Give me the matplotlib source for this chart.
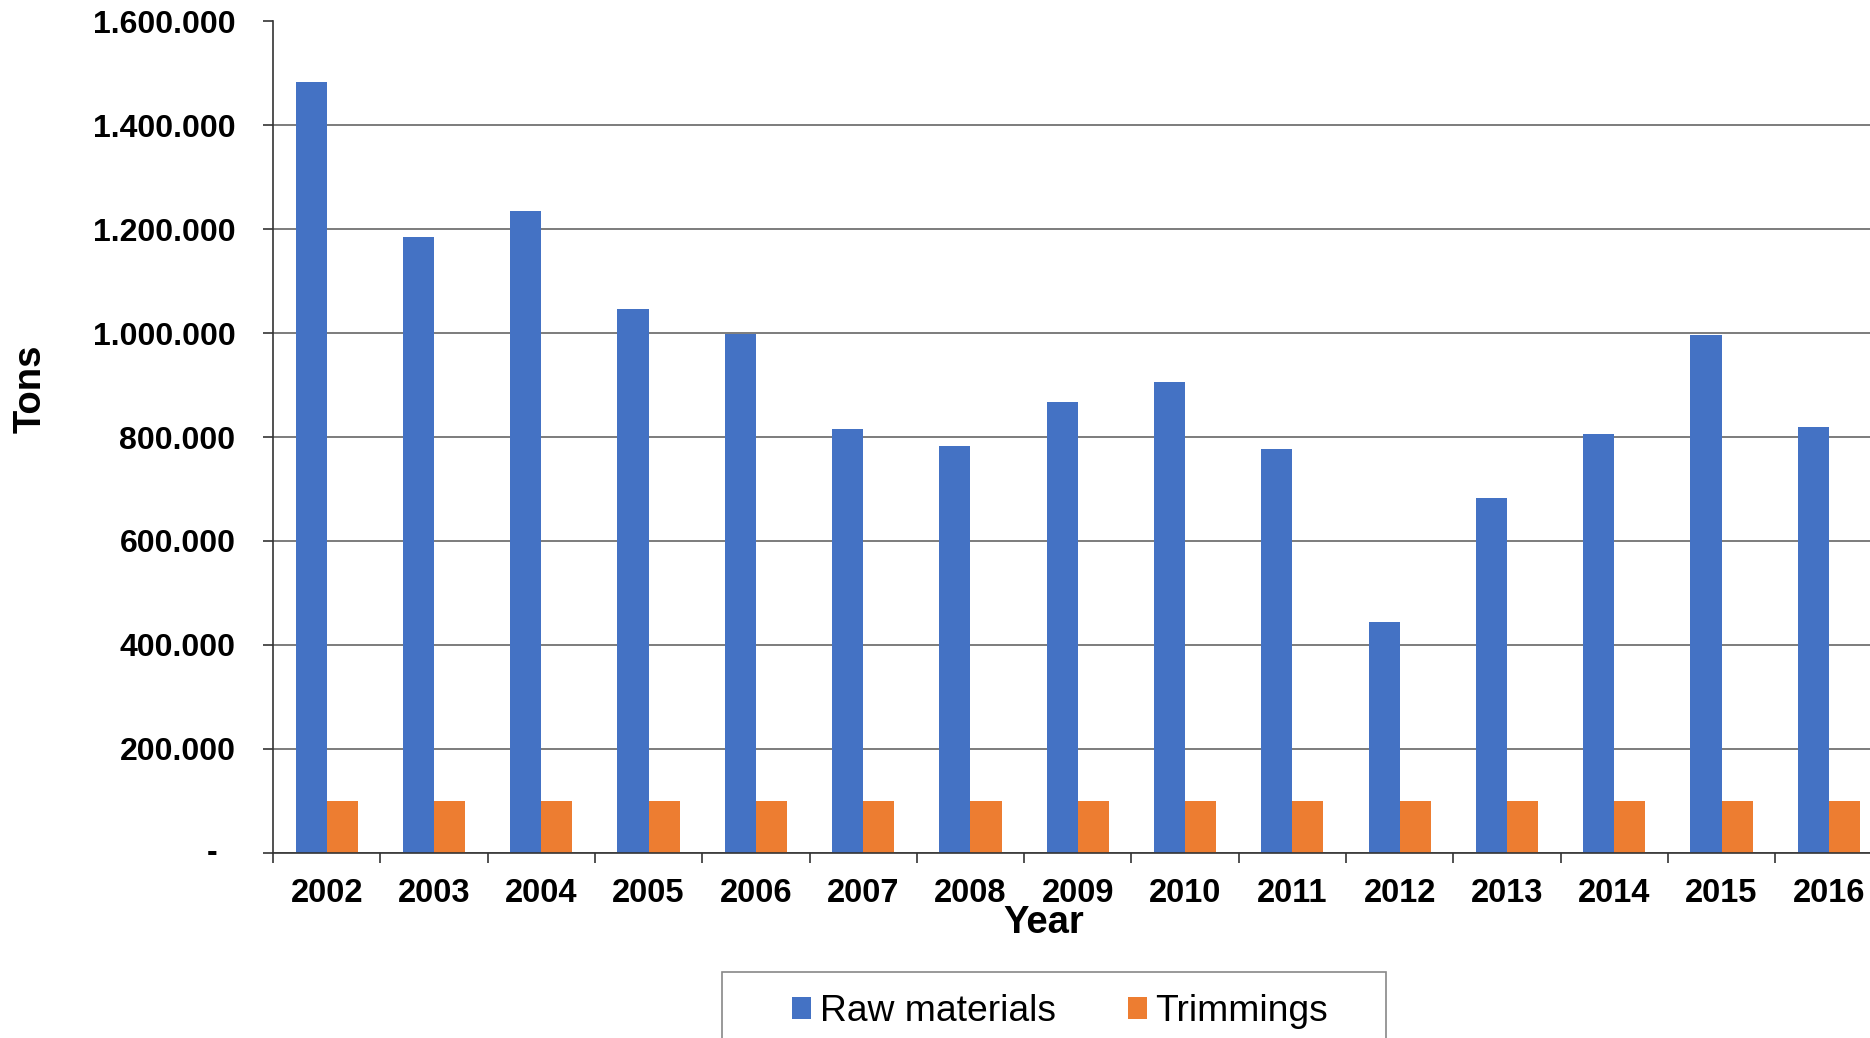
import numpy as np
import matplotlib
matplotlib.use('Agg')
import matplotlib.pyplot as plt
from matplotlib.patches import Rectangle

plt.rcParams['font.family'] = ['Liberation Sans', 'DejaVu Sans']

# data
years = ['2002', '2003', '2004', '2005', '2006', '2007', '2008', '2009',
         '2010', '2011', '2012', '2013', '2014', '2015', '2016']
raw_materials = [1483000, 1185000, 1235000, 1047000, 998000, 815000, 783000, 868000,
                 907000, 778000, 445000, 682000, 806000, 996000, 820000]
trimmings = [100000] * 15
y_ticks = [0, 200000, 400000, 600000, 800000, 1000000, 1200000, 1400000, 1600000]
y_labels = ['', '200.000', '400.000', '600.000', '800.000', '1.000.000',
            '1.200.000', '1.400.000', '1.600.000']

W, H = 1870, 1038
fig = plt.figure(figsize=(W / 100, H / 100), dpi=100)
ax = fig.add_axes([273 / W, 1 - 852.7 / H, (1882.5 - 273) / W, (852.7 - 21.5) / H])

x = np.arange(len(years))
bw = 0.29
ax.bar(x - bw / 2, raw_materials, bw, color='#4472C4', label='Raw materials', zorder=3)
ax.bar(x + bw / 2, trimmings, bw, color='#ED7D31', label='Trimmings', zorder=3)

ax.set_xlim(-0.5, len(years) - 0.5)
ax.set_ylim(0, 1600000)
ax.set_yticks(y_ticks)
ax.set_yticklabels(y_labels, fontsize=23, fontweight='bold')
ax.set_xticks(x)
ax.set_xticklabels(years, fontsize=23.5, fontweight='bold')
ax.set_xticks(np.arange(len(years)) - 0.5, minor=True)
ax.tick_params(axis='x', which='major', length=0, pad=18)
ax.tick_params(axis='x', which='minor', length=7, width=1.2, color='#333333', direction='out')
ax.tick_params(axis='y', length=7, width=1.2, color='#333333', pad=20)

# zero label shown as a dash
ax.annotate('-', xy=(0, 0), xycoords=('axes fraction', 'data'), xytext=(-40, 0),
            textcoords='offset points', ha='right', va='center',
            fontsize=23, fontweight='bold')

ax.grid(axis='y', color='#666666', linewidth=1.2, zorder=0)
for s in ['top', 'right']:
    ax.spines[s].set_visible(False)
ax.spines['left'].set_color('#333333')
ax.spines['left'].set_linewidth(1.2)
ax.spines['bottom'].set_color('#333333')
ax.spines['bottom'].set_linewidth(1.2)
ax.spines['bottom'].set_zorder(4)

fig.text(31 / W, 1 - 389 / H, 'Tons', rotation=90, ha='center', va='center',
         fontsize=27.5, fontweight='bold')
fig.text(1043.5 / W, 1 - 923 / H, 'Year', ha='center', va='center',
         fontsize=27.5, fontweight='bold')

# legend box
fig.patches.append(Rectangle((721.5 / W, -0.05), (1386 - 721.5) / W, 0.05 + 1 - 972 / H,
                             transform=fig.transFigure, facecolor='white',
                             edgecolor='#888888', linewidth=1.2))
fig.legend(loc='center', bbox_to_anchor=((793 + 1327) / 2 / W, 1 - 1011.5 / H),
           ncol=2, frameon=False, fontsize=26.8, handlelength=0.51, handleheight=0.51,
           handletextpad=0.23, columnspacing=1.93)

fig.savefig('out.png', dpi=100)
